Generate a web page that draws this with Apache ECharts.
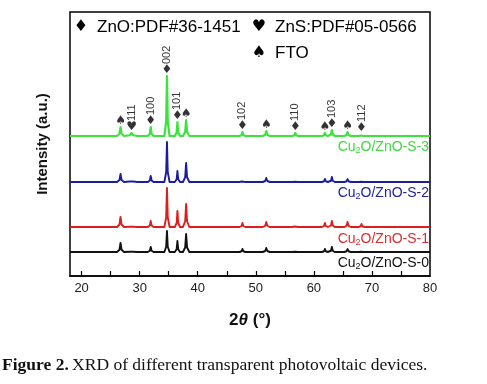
<!DOCTYPE html>
<html>
<head>
<meta charset="utf-8">
<script src="https://cdn.jsdelivr.net/npm/echarts@6/dist/echarts.min.js"></script>
<style>html,body{margin:0;padding:0;background:#fff;}#c{width:487px;height:384px;}</style>
</head>
<body>
<div id="c"></div>
<script>
// ---- data ----
const peakPos = [26.7, 28.6, 31.9, 34.7, 36.5, 38.0, 47.7, 51.8, 56.8, 61.9, 63.1, 65.8, 68.2];
const peakHalfWidth = [0.6, 1.0, 0.5, 0.45, 0.45, 0.55, 0.5, 0.6, 0.5, 0.5, 0.5, 0.55, 0.5];
const peakPhase = ['♠', '♥', '♦', '♦', '♦', '♠', '♦', '♠', '♦', '♠', '♦', '♠', '♦'];
const peakHkl = ['', '111', '100', '002', '101', '', '102', '', '110', '', '103', '', '112'];
const intS3 = [9, 3, 9, 60, 14, 16, 4, 5, 3, 3, 6, 4, 2];
const intS2 = [8, 2, 6, 40, 11, 19, 2, 4, 1, 3, 5, 3, 1];
const intS1 = [10, 1, 6, 39, 16, 23, 4, 5, 2, 4, 6, 5, 3];
const intS0 = [9, 1, 5, 21, 11, 18, 3, 4, 1, 3, 5, 3, 1];
const sampleIds = ['3', '2', '1', '0'];
const legendItems = [['♦', 'ZnO:PDF#36-1451'], ['♥', 'ZnS:PDF#05-0566'], ['♠', 'FTO']];
const xTickValues = [20, 25, 30, 35, 40, 45, 50, 55, 60, 65, 70, 75];
const xLabelValues = [20, 30, 40, 50, 60, 70, 80];

// ---- layout / style ----
const offsets = [140, 94, 49, 24];
const colors = ['#3de33d', '#1c1c9e', '#dc1e1e', '#111111'];
const labelColors = ['#44d644', '#23239c', '#d43030', '#111111'];
const labelY = [147, 193, 239, 263];
const allInts = [intS3, intS2, intS1, intS0];

function buildLine(ints, off) {
  const pts = [[18, off]];
  peakPos.forEach((p, i) => {
    const w = peakHalfWidth[i];
    pts.push([p - w, off], [p - w * 0.3, off + ints[i] * 0.25], [p, off + ints[i]],
             [p + w * 0.3, off + ints[i] * 0.25], [p + w, off]);
  });
  pts.push([80, off]);
  return pts;
}

const series = allInts.map((ints, k) => ({
  type: 'line', data: buildLine(ints, offsets[k]), showSymbol: false, symbol: 'none',
  lineStyle: { color: colors[k], width: k === 0 ? 2.2 : 1.9, join: 'round' }, z: 5 - k, silent: true
}));

series.push({
  type: 'scatter', symbolSize: 1, itemStyle: { color: 'transparent' }, silent: true,
  data: peakPos.map((p, i) => [p, offsets[0] + intS3[i] + 6, peakPhase[i]]),
  label: { show: true, position: 'inside', formatter: q => q.data[2], color: '#000',
    fontFamily: 'DejaVu Sans', fontSize: 12 }
});
series.push({
  type: 'scatter', symbolSize: 1, itemStyle: { color: 'transparent' }, silent: true,
  data: peakPos.map((p, i) => [p, offsets[0] + intS3[i] + 12, peakHkl[i]]).filter(d => d[2] !== ''),
  label: { show: true, position: 'inside', formatter: q => q.data[2], color: '#000',
    fontFamily: 'Liberation Sans', fontSize: 11, rotate: 90, align: 'left', verticalAlign: 'middle' }
});

const graphic = [];
sampleIds.forEach((s, k) => {
  graphic.push({
    type: 'text', x: 429, y: labelY[k], silent: true,
    style: {
      text: '{n|Cu}{s|2}{n|O/ZnO-S-' + s + '}', align: 'right', verticalAlign: 'middle',
      rich: {
        n: { fontSize: 14, fontFamily: 'Liberation Sans', fill: labelColors[k], lineHeight: 16 },
        s: { fontSize: 9, fontFamily: 'Liberation Sans', fill: labelColors[k], verticalAlign: 'bottom', lineHeight: 9 }
      }
    }
  });
});
const legendPos = [[81, 27, 97], [259, 27, 275], [259, 53, 275]];
legendItems.forEach((it, i) => {
  const [gx, gy, tx] = legendPos[i];
  graphic.push({ type: 'text', x: gx, y: gy, silent: true,
    style: { text: it[0], fontFamily: 'DejaVu Sans', fontSize: 16, fill: '#000', align: 'center', verticalAlign: 'middle' } });
  graphic.push({ type: 'text', x: tx, y: gy, silent: true,
    style: { text: it[1], fontFamily: 'Liberation Sans', fontSize: 17, fill: '#000', align: 'left', verticalAlign: 'middle' } });
});
graphic.push({
  type: 'text', x: 2, y: 365, silent: true,
  style: {
    text: '{b|Figure 2.} {r|XRD of different transparent photovoltaic devices.}', verticalAlign: 'middle',
    rich: {
      b: { fontFamily: 'Liberation Serif', fontSize: 17.5, fontWeight: 'bold', fill: '#111' },
      r: { fontFamily: 'Liberation Serif', fontSize: 17.5, fill: '#111' }
    }
  }
});

const chart = echarts.init(document.getElementById('c'), null, { renderer: 'canvas' });
chart.setOption({
  backgroundColor: '#fff',
  animation: false,
  grid: { left: 70, right: 57, top: 12, bottom: 108, show: true, borderColor: '#000', borderWidth: 1.5 },
  xAxis: {
    type: 'value', min: 18, max: 80,
    axisLine: { show: true, lineStyle: { color: '#000', width: 1.5 } },
    axisTick: { show: true, inside: true, length: 5, customValues: xTickValues, lineStyle: { color: '#000', width: 1.2 } },
    axisLabel: { show: true, customValues: xLabelValues, margin: 6, fontFamily: 'Liberation Sans', fontSize: 13, color: '#222' },
    splitLine: { show: false },
    name: '{a|2}{b|θ}{a| (°)}', nameLocation: 'middle', nameGap: 36,
    nameTextStyle: { rich: {
      a: { fontFamily: 'Liberation Sans', fontSize: 17, fontWeight: 'bold', color: '#111' },
      b: { fontFamily: 'Liberation Sans', fontSize: 17, fontWeight: 'bold', fontStyle: 'italic', color: '#111' }
    } }
  },
  yAxis: {
    type: 'value', min: 0, max: 264,
    axisLine: { show: false }, axisTick: { show: false }, axisLabel: { show: false }, splitLine: { show: false },
    name: 'Intensity (a.u.)', nameLocation: 'middle', nameGap: 20,
    nameTextStyle: { fontFamily: 'Liberation Sans', fontSize: 15, fontWeight: 'bold', color: '#111' }
  },
  series: series,
  graphic: graphic
});
</script>
</body>
</html>
